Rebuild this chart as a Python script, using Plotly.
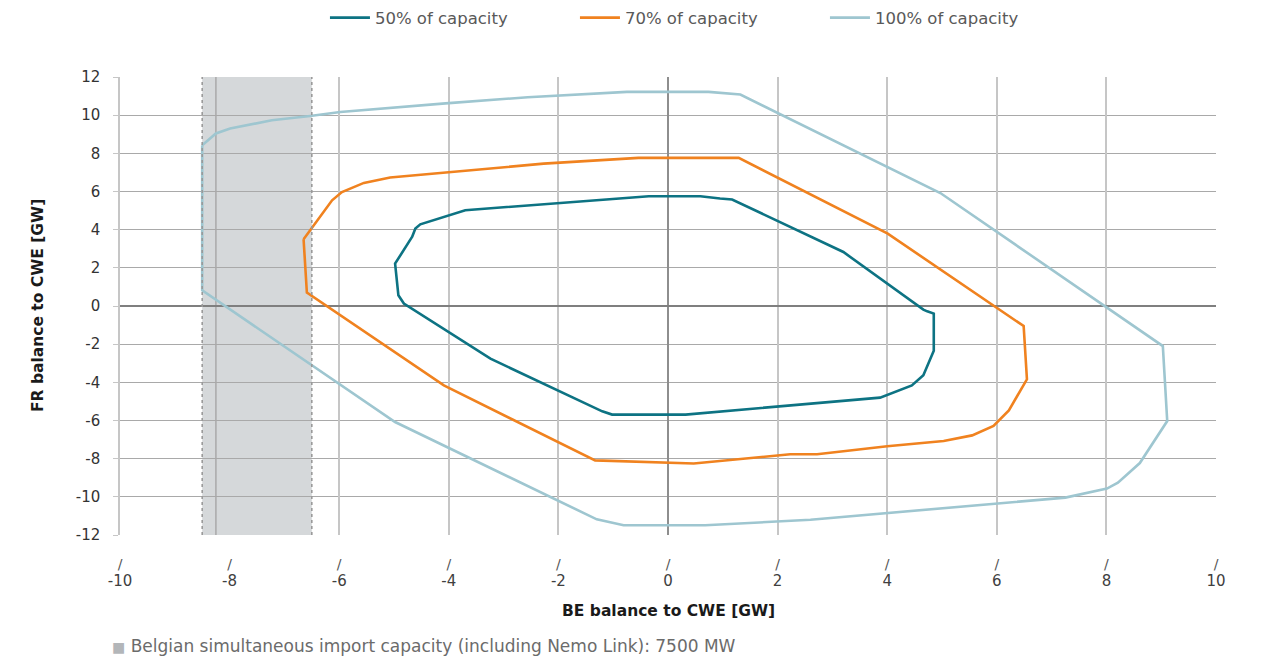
import plotly.graph_objects as go

# ---- data (GW) ----
series_names = ["50% of capacity", "70% of capacity", "100% of capacity"]
series_colors = ["#0d7383", "#f0821f", "#9ec6d0"]

be_50 = [-4.67, -4.61, -4.52, -3.70, -0.35, 0.59, 0.95, 1.17, 3.20, 4.66, 4.73, 4.85, 4.85, 4.66, 4.45, 4.00, 3.87, 0.32, -1.02, -1.20, -3.24, -4.82, -4.92, -4.98, -4.67]
fr_50 = [3.62, 4.06, 4.28, 5.02, 5.75, 5.75, 5.63, 5.58, 2.83, -0.19, -0.28, -0.40, -2.34, -3.63, -4.16, -4.68, -4.80, -5.69, -5.69, -5.52, -2.76, 0.13, 0.56, 2.22, 3.62]

be_70 = [-6.65, -6.13, -5.95, -5.55, -5.07, -2.27, -0.54, 1.29, 4.01, 6.49, 6.55, 6.22, 5.94, 5.55, 5.03, 4.00, 2.72, 2.23, 0.47, -0.02, -1.33, -4.09, -6.59, -6.65]
fr_70 = [3.50, 5.54, 5.97, 6.45, 6.73, 7.46, 7.76, 7.76, 3.79, -1.05, -3.84, -5.47, -6.29, -6.78, -7.07, -7.35, -7.77, -7.77, -8.25, -8.21, -8.09, -4.16, 0.70, 3.50]

be_100 = [-8.50, -8.25, -7.99, -7.23, -6.53, -5.98, -4.06, -2.56, -0.75, 0.74, 1.32, 4.97, 9.03, 9.11, 8.61, 8.21, 8.01, 7.25, 2.60, 0.68, -0.81, -1.30, -4.98, -8.50, -8.50]
fr_100 = [8.42, 9.04, 9.30, 9.73, 9.96, 10.17, 10.62, 10.94, 11.22, 11.22, 11.08, 5.92, -2.10, -6.03, -8.23, -9.26, -9.57, -10.04, -11.20, -11.49, -11.49, -11.18, -6.08, 0.82, 8.42]

import_band = [-8.5, -6.5]      # Belgian simultaneous import capacity band
import_marker = -8.25
x_ticks = [-10, -8, -6, -4, -2, 0, 2, 4, 6, 8, 10]
y_ticks = [-12, -10, -8, -6, -4, -2, 0, 2, 4, 6, 8, 10, 12]
note_text = "Belgian simultaneous import capacity (including Nemo Link): 7500 MW"

FONT = "DejaVu Sans"

fig = go.Figure()
for name, color, xs, ys in zip(series_names, series_colors,
                               [be_50, be_70, be_100], [fr_50, fr_70, fr_100]):
    fig.add_trace(go.Scatter(x=xs, y=ys, mode="lines", name=name,
                             line=dict(color=color, width=2.6), xaxis="x", yaxis="y"))

# shaded import band
fig.add_shape(type="rect", xref="x", yref="y", x0=import_band[0], x1=import_band[1],
              y0=-12, y1=12, fillcolor="#d5d8da", line_width=0, layer="below")
for xv in import_band:
    fig.add_shape(type="line", xref="x", yref="y", x0=xv, x1=xv, y0=-12, y1=12,
                  line=dict(color="#9a9a9a", width=1.6, dash="dot"), layer="above")
fig.add_shape(type="line", xref="x", yref="y", x0=import_marker, x1=import_marker,
              y0=-12, y1=12, line=dict(color="#acacac", width=1.6), layer="below")

grid_x = [v for v in x_ticks if v != -8]

fig.update_layout(
    width=1246, height=649,
    margin=dict(l=112, r=38, t=69, b=122, autoexpand=False),
    paper_bgcolor="white", plot_bgcolor="white",
    font=dict(family=FONT, color="#404040", size=15),
    showlegend=True,
    legend=dict(orientation="h", x=0.187, xanchor="left", y=1.129, yanchor="middle",
                font=dict(family=FONT, size=16.5, color="#595959"),
                entrywidth=195, entrywidthmode="pixels", itemwidth=40),
    xaxis=dict(range=[-10, 10], tickvals=x_ticks,
               ticktext=[str(v) for v in x_ticks],
               showgrid=False, zeroline=False, showline=False,
               ticks="", ticklabelstandoff=35,
               tickfont=dict(size=15, color="#404040")),
    xaxis2=dict(range=[-10, 10], overlaying="x", tickvals=grid_x, showticklabels=False,
                showgrid=True, gridcolor="#c6c6c6", gridwidth=1.5,
                zeroline=True, zerolinecolor="#8e8e8e", zerolinewidth=1.5,
                showline=False, ticks=""),
    xaxis3=dict(range=[-10, 10], overlaying="x", tickvals=x_ticks,
                ticktext=["/" for _ in x_ticks], showgrid=False, zeroline=False,
                showline=False, ticks="", ticklabelstandoff=19,
                tickfont=dict(size=14, color="#555555")),
    yaxis=dict(range=[-12, 12], tickvals=y_ticks,
               ticktext=[str(v) for v in y_ticks], showgrid=True,
               gridcolor="#a9a9a9", gridwidth=1.2,
               zeroline=True, zerolinecolor="#7f7f7f", zerolinewidth=1.5,
               showline=True, linecolor="#c6c6c6", linewidth=1.5, mirror=False,
               ticks="outside", ticklen=5, tickcolor="#c6c6c6",
               ticklabelstandoff=10,
               tickfont=dict(size=15, color="#333333")),
)
# invisible traces to activate the helper x axes
for ax in ["x2", "x3"]:
    fig.add_trace(go.Scatter(x=[0], y=[0], xaxis=ax, yaxis="y", mode="markers",
                             marker=dict(opacity=0), showlegend=False, hoverinfo="skip"))

fig.add_annotation(text="<b>BE balance to CWE [GW]</b>", xref="paper", yref="paper",
                   x=0.5, y=-0.166, xanchor="center", yanchor="middle", showarrow=False,
                   font=dict(family=FONT, size=15.5, color="#1a1a1a"))
fig.add_annotation(text="<b>FR balance to CWE [GW]</b>", xref="paper", yref="paper",
                   x=-0.0748, y=0.5, xanchor="center", yanchor="middle", showarrow=False,
                   textangle=-90, font=dict(family=FONT, size=15.5, color="#1a1a1a"))
fig.add_annotation(text="<span style='color:#b3b6b9;font-size:14px'>■</span> " + note_text,
                   xref="paper", yref="paper", x=-0.008, y=-0.2664,
                   xanchor="left", yanchor="bottom", showarrow=False, borderpad=0,
                   font=dict(family=FONT, size=17, color="#6b6b6b"))

fig.write_html("out.html")
